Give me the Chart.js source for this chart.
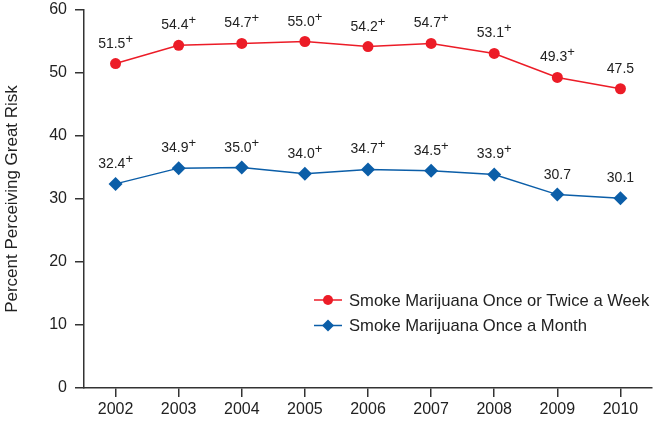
<!DOCTYPE html>
<html>
<head>
<meta charset="utf-8">
<script src="https://cdn.jsdelivr.net/npm/chart.js@4"></script>
<style>
  html, body { margin: 0; padding: 0; background: #fff; }
  #wrap { width: 654px; height: 424px; }
</style>
</head>
<body>
<div id="wrap"><canvas id="grafica"></canvas></div>
<script>
// datos
const anios = ['2002', '2003', '2004', '2005', '2006', '2007', '2008', '2009', '2010'];
const semana = [51.5, 54.4, 54.7, 55.0, 54.2, 54.7, 53.1, 49.3, 47.5];
const mes = [32.4, 34.9, 35.0, 34.0, 34.7, 34.5, 33.9, 30.7, 30.1];
// + = diferencia significativa respecto a 2010
const semanaPlus = [true, true, true, true, true, true, true, true, false];
const mesPlus = [true, true, true, true, true, true, true, false, false];
const etiquetas = ['Smoke Marijuana Once or Twice a Week', 'Smoke Marijuana Once a Month'];

const rojo = '#ec1c27';
const azul = '#0b5ea8';
const fuente = '"Liberation Sans", Arial, sans-serif';

// los puntos quedan lejos del borde (offset), no hace falta reservar margen por ellos
Chart.LineController.prototype.getMaxOverflow = function () { return 0; };

// etiquetas de valor con el "+" en superindice
const valores = {
  id: 'valores',
  afterDatasetsDraw(chart) {
    const ctx = chart.ctx;
    const marcas = [semanaPlus, mesPlus];
    ctx.save();
    ctx.fillStyle = '#222';
    chart.data.datasets.forEach((ds, i) => {
      chart.getDatasetMeta(i).data.forEach((pt, j) => {
        const txt = ds.data[j].toFixed(1);
        ctx.font = '14px ' + fuente;
        const w = ctx.measureText(txt).width;
        ctx.font = '13px ' + fuente;
        const wp = marcas[i][j] ? ctx.measureText('+').width : 0;
        const x0 = pt.x - (w + wp) / 2;
        const y0 = pt.y - 16;
        ctx.textAlign = 'left';
        ctx.textBaseline = 'alphabetic';
        ctx.font = '14px ' + fuente;
        ctx.fillText(txt, x0, y0);
        if (marcas[i][j]) {
          ctx.font = '13px ' + fuente;
          ctx.fillText('+', x0 + w, y0 - 5);
        }
      });
    });
    ctx.restore();
  }
};

// leyenda dentro del area del grafico
const leyenda = {
  id: 'leyenda',
  afterDraw(chart) {
    const ctx = chart.ctx;
    const filas = [
      { y: 300, color: rojo, forma: 'circle', r: 5 },
      { y: 325.5, color: azul, forma: 'rectRot', r: 6 }
    ];
    ctx.save();
    filas.forEach((f, i) => {
      ctx.strokeStyle = f.color;
      ctx.lineWidth = 1.5;
      ctx.beginPath();
      ctx.moveTo(314, f.y);
      ctx.lineTo(342, f.y);
      ctx.stroke();
      ctx.fillStyle = f.color;
      Chart.helpers.drawPoint(ctx, { pointStyle: f.forma, radius: f.r, borderWidth: 0 }, 328, f.y);
      ctx.fillStyle = '#222';
      ctx.font = '16.6px ' + fuente;
      ctx.textAlign = 'left';
      ctx.textBaseline = 'middle';
      ctx.fillText(etiquetas[i], 349, f.y + 1);
    });
    ctx.restore();
  }
};

new Chart(document.getElementById('grafica'), {
  type: 'line',
  data: {
    labels: anios,
    datasets: [
      {
        label: etiquetas[0],
        data: semana,
        borderColor: rojo,
        backgroundColor: rojo,
        borderWidth: 1.5,
        pointStyle: 'circle',
        pointRadius: 5.5,
        pointHoverRadius: 5.5,
        pointBorderWidth: 0
      },
      {
        label: etiquetas[1],
        data: mes,
        borderColor: azul,
        backgroundColor: azul,
        borderWidth: 1.5,
        pointStyle: 'rectRot',
        pointRadius: 7,
        pointHoverRadius: 7,
        pointBorderWidth: 0
      }
    ]
  },
  options: {
    responsive: true,
    maintainAspectRatio: false,
    animation: false,
    layout: { padding: { top: 0, right: 2, left: 0, bottom: 0 } },
    plugins: {
      legend: { display: false },
      tooltip: { enabled: false }
    },
    scales: {
      x: {
        offset: true,
        grid: {
          offset: false,
          drawOnChartArea: false,
          drawTicks: true,
          tickLength: 9,
          color: '#333',
          lineWidth: 1.5
        },
        border: { color: '#333', width: 1.5 },
        ticks: {
          color: '#222',
          font: { family: fuente, size: 16 },
          padding: 3
        },
        afterFit(s) { s.height = 36; s.paddingLeft = 0; s.paddingRight = 0; }
      },
      y: {
        min: 0,
        max: 60,
        ticks: {
          stepSize: 10,
          color: '#222',
          font: { family: fuente, size: 16 },
          padding: 8
        },
        grid: {
          drawOnChartArea: false,
          tickLength: 9,
          color: '#333',
          lineWidth: 1.5
        },
        border: { color: '#333', width: 1.5 },
        title: {
          display: true,
          text: 'Percent Perceiving Great Risk',
          color: '#222',
          font: { family: fuente, size: 17 },
          padding: { top: 2, bottom: 0 }
        },
        afterFit(s) { s.width = 84; s.paddingTop = 10; s.paddingBottom = 0; }
      }
    }
  },
  plugins: [valores, leyenda]
});
</script>
</body>
</html>
